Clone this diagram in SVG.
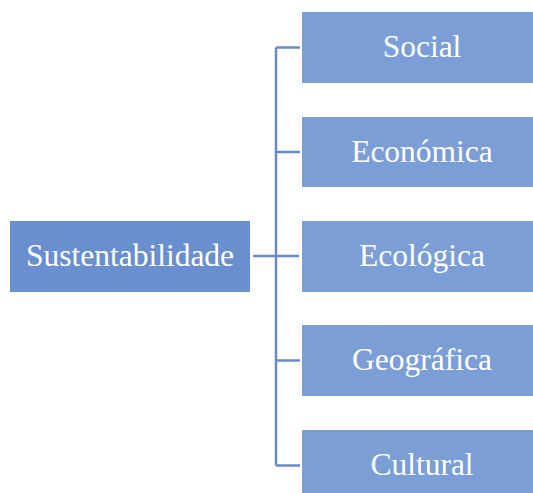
<svg xmlns="http://www.w3.org/2000/svg" width="533" height="493" viewBox="0 0 533 493">
<style>
.root{fill:#6A8FCF}
.leaf{fill:#7B9ED6}
.lbl{font-size:31.5px;fill:#FFFFFF;text-anchor:middle}
.conn{stroke:#6E89C8;stroke-width:2.5;fill:none}
</style>
<rect width="533" height="493" fill="#FFFFFF"/>
<g id="connectors">
<path class="conn" d="M253 256H299"/>
<path class="conn" d="M276 47.5V465.5"/>
<path class="conn" d="M276 47.5H300M276 152H300M276 360.5H300M276 465.5H300"/>
</g>
<g font-family="'Liberation Serif', 'DejaVu Serif', serif">
<g id="node-sustentabilidade">
<rect class="root" x="10" y="221" width="240" height="71"/>
<text class="lbl" x="130" y="266">Sustentabilidade</text>
</g>
<g id="node-social">
<rect class="leaf" x="302" y="12" width="240" height="71"/>
<text class="lbl" x="422" y="57">Social</text>
</g>
<g id="node-economica">
<rect class="leaf" x="302" y="117" width="240" height="70"/>
<text class="lbl" x="422" y="162">Económica</text>
</g>
<g id="node-ecologica">
<rect class="leaf" x="302" y="221" width="240" height="71"/>
<text class="lbl" x="422" y="266">Ecológica</text>
</g>
<g id="node-geografica">
<rect class="leaf" x="302" y="325" width="240" height="71"/>
<text class="lbl" x="422" y="370">Geográfica</text>
</g>
<g id="node-cultural">
<rect class="leaf" x="302" y="430" width="240" height="71"/>
<text class="lbl" x="422" y="475">Cultural</text>
</g>
</g>
</svg>
